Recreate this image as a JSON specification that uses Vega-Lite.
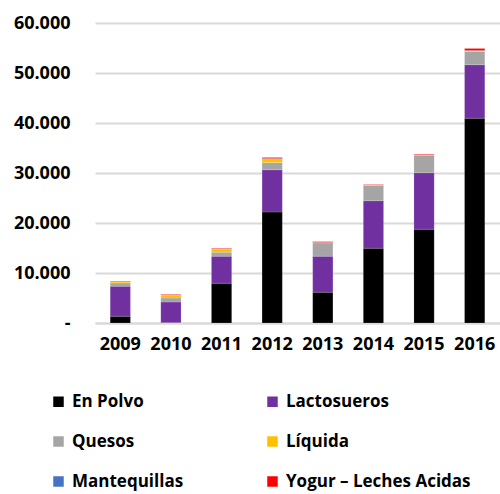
{
  "$schema": "https://vega.github.io/schema/vega-lite/v6.json",
  "width": 405,
  "height": 300,
  "autosize": "none",
  "padding": {"left": 95, "top": 23, "right": 0, "bottom": 171},
  "background": "white",
  "data": {
    "values": [
      {"anio": "2009", "producto": "En Polvo", "orden": 1, "valor": 1350},
      {"anio": "2009", "producto": "Lactosueros", "orden": 2, "valor": 6000},
      {"anio": "2009", "producto": "Quesos", "orden": 3, "valor": 650},
      {"anio": "2009", "producto": "Líquida", "orden": 4, "valor": 200},
      {"anio": "2009", "producto": "Mantequillas", "orden": 5, "valor": 30},
      {"anio": "2009", "producto": "Yogur – Leches Acidas", "orden": 6, "valor": 100},
      {"anio": "2010", "producto": "En Polvo", "orden": 1, "valor": 100},
      {"anio": "2010", "producto": "Lactosueros", "orden": 2, "valor": 4100},
      {"anio": "2010", "producto": "Quesos", "orden": 3, "valor": 800},
      {"anio": "2010", "producto": "Líquida", "orden": 4, "valor": 600},
      {"anio": "2010", "producto": "Mantequillas", "orden": 5, "valor": 20},
      {"anio": "2010", "producto": "Yogur – Leches Acidas", "orden": 6, "valor": 100},
      {"anio": "2011", "producto": "En Polvo", "orden": 1, "valor": 7950},
      {"anio": "2011", "producto": "Lactosueros", "orden": 2, "valor": 5400},
      {"anio": "2011", "producto": "Quesos", "orden": 3, "valor": 800},
      {"anio": "2011", "producto": "Líquida", "orden": 4, "valor": 650},
      {"anio": "2011", "producto": "Mantequillas", "orden": 5, "valor": 30},
      {"anio": "2011", "producto": "Yogur – Leches Acidas", "orden": 6, "valor": 100},
      {"anio": "2012", "producto": "En Polvo", "orden": 1, "valor": 22200},
      {"anio": "2012", "producto": "Lactosueros", "orden": 2, "valor": 8450},
      {"anio": "2012", "producto": "Quesos", "orden": 3, "valor": 1450},
      {"anio": "2012", "producto": "Líquida", "orden": 4, "valor": 750},
      {"anio": "2012", "producto": "Mantequillas", "orden": 5, "valor": 50},
      {"anio": "2012", "producto": "Yogur – Leches Acidas", "orden": 6, "valor": 200},
      {"anio": "2013", "producto": "En Polvo", "orden": 1, "valor": 6150},
      {"anio": "2013", "producto": "Lactosueros", "orden": 2, "valor": 7200},
      {"anio": "2013", "producto": "Quesos", "orden": 3, "valor": 2700},
      {"anio": "2013", "producto": "Líquida", "orden": 4, "valor": 20},
      {"anio": "2013", "producto": "Mantequillas", "orden": 5, "valor": 50},
      {"anio": "2013", "producto": "Yogur – Leches Acidas", "orden": 6, "valor": 150},
      {"anio": "2014", "producto": "En Polvo", "orden": 1, "valor": 14950},
      {"anio": "2014", "producto": "Lactosueros", "orden": 2, "valor": 9500},
      {"anio": "2014", "producto": "Quesos", "orden": 3, "valor": 3050},
      {"anio": "2014", "producto": "Líquida", "orden": 4, "valor": 50},
      {"anio": "2014", "producto": "Mantequillas", "orden": 5, "valor": 30},
      {"anio": "2014", "producto": "Yogur – Leches Acidas", "orden": 6, "valor": 100},
      {"anio": "2015", "producto": "En Polvo", "orden": 1, "valor": 18750},
      {"anio": "2015", "producto": "Lactosueros", "orden": 2, "valor": 11300},
      {"anio": "2015", "producto": "Quesos", "orden": 3, "valor": 3450},
      {"anio": "2015", "producto": "Líquida", "orden": 4, "valor": 50},
      {"anio": "2015", "producto": "Mantequillas", "orden": 5, "valor": 20},
      {"anio": "2015", "producto": "Yogur – Leches Acidas", "orden": 6, "valor": 150},
      {"anio": "2016", "producto": "En Polvo", "orden": 1, "valor": 40950},
      {"anio": "2016", "producto": "Lactosueros", "orden": 2, "valor": 10700},
      {"anio": "2016", "producto": "Quesos", "orden": 3, "valor": 2650},
      {"anio": "2016", "producto": "Líquida", "orden": 4, "valor": 150},
      {"anio": "2016", "producto": "Mantequillas", "orden": 5, "valor": 50},
      {"anio": "2016", "producto": "Yogur – Leches Acidas", "orden": 6, "valor": 400}
    ]
  },
  "mark": {"type": "bar", "stroke": "white", "strokeWidth": 0.3, "strokeOpacity": 0.5},
  "encoding": {
    "x": {
      "field": "anio",
      "type": "nominal",
      "title": null,
      "scale": {"paddingInner": 0.6, "paddingOuter": 0.3},
      "axis": {
        "labelAngle": 0,
        "labelFont": "Open Sans",
        "labelFontWeight": "bold",
        "labelFontSize": 18,
        "labelColor": "#000000",
        "labelPadding": 12,
        "ticks": false,
        "domainColor": "#d9d9d9",
        "domainWidth": 2
      }
    },
    "y": {
      "field": "valor",
      "type": "quantitative",
      "aggregate": "sum",
      "stack": "zero",
      "title": null,
      "scale": {"domain": [0, 60000], "nice": false},
      "axis": {
        "values": [0, 10000, 20000, 30000, 40000, 50000, 60000],
        "labelExpr": "datum.value == 0 ? '-' : replace(format(datum.value, ','), ',', '.')",
        "labelFont": "Open Sans",
        "labelFontWeight": "bold",
        "labelFontSize": 18,
        "labelColor": "#000000",
        "labelPadding": 25,
        "ticks": false,
        "domain": false,
        "gridColor": "#d9d9d9",
        "gridWidth": 2
      }
    },
    "color": {
      "field": "producto",
      "type": "nominal",
      "sort": ["En Polvo", "Lactosueros", "Quesos", "Líquida", "Mantequillas", "Yogur – Leches Acidas"],
      "scale": {
        "domain": ["En Polvo", "Lactosueros", "Quesos", "Líquida", "Mantequillas", "Yogur – Leches Acidas"],
        "range": ["#000000", "#7030A0", "#A5A5A5", "#FFC000", "#4472C4", "#FF0000"]
      },
      "legend": {
        "title": null,
        "orient": "none",
        "direction": "horizontal",
        "legendX": -45,
        "legendY": 370,
        "columns": 2,
        "columnPadding": 80,
        "rowPadding": 22,
        "symbolType": "square",
        "symbolSize": 110,
        "symbolStrokeWidth": 0,
        "labelFont": "Open Sans",
        "labelFontWeight": "bold",
        "labelFontSize": 17,
        "labelColor": "#000000",
        "labelOffset": 5,
        "labelLimit": 300
      }
    },
    "order": {"field": "orden", "type": "quantitative", "sort": "ascending"}
  },
  "config": {"view": {"stroke": null}}
}
